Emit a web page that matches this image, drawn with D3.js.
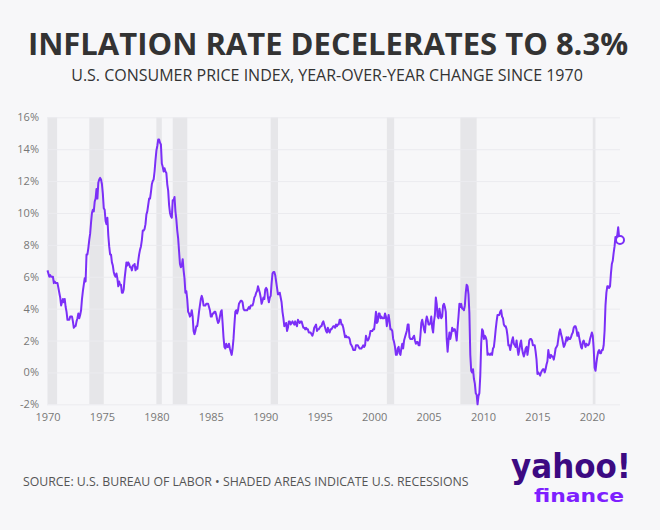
<!DOCTYPE html>
<html>
<head>
<meta charset="utf-8">
<script src="https://cdn.jsdelivr.net/npm/d3@7"></script>
<style>
  html, body { margin: 0; padding: 0; background: #f7f7f9; }
  svg { display: block; }
  .tick text { font-family: "Liberation Sans Narrow", "Open Sans", sans-serif; fill: #777; }
</style>
</head>
<body>
<svg id="chart" width="660" height="530"></svg>
<script>
// monthly CPI-U year-over-year change (%), Jan 1970 .. Aug 2022
var startYear = 1970;
var cpiYoY = [
  6.4, 6.2, 6.0, 6.1, 6.0, 6.0, 6.0, 5.6, 5.7, 5.6, 5.6, 5.6,   // 1970
  5.3, 5.0, 4.7, 4.2, 4.4, 4.6, 4.4, 4.6, 4.1, 3.8, 3.3, 3.3,   // 1971
  3.3, 3.5, 3.5, 3.5, 3.2, 2.8, 2.9, 2.9, 3.2, 3.4, 3.7, 3.4,   // 1972
  3.6, 3.9, 4.6, 5.1, 5.5, 5.9, 5.7, 7.4, 7.4, 7.8, 8.3, 8.7,   // 1973
  9.4, 10.0, 10.2, 10.1, 10.7, 10.9, 11.5, 10.9, 11.9, 12.1, 12.2, 12.1, // 1974
  11.8, 11.2, 10.3, 10.2, 9.5, 9.3, 9.7, 8.6, 7.9, 7.4, 7.4, 6.9, // 1975
  6.7, 6.3, 6.1, 6.0, 6.2, 5.9, 5.4, 5.7, 5.5, 5.5, 5.0, 5.0,   // 1976
  5.2, 5.9, 6.4, 6.9, 6.7, 6.9, 6.8, 6.6, 6.6, 6.4, 6.7, 6.7,   // 1977
  6.8, 6.4, 6.6, 6.5, 7.0, 7.4, 7.7, 7.9, 8.3, 8.9, 8.9, 9.0,   // 1978
  9.3, 9.9, 10.1, 10.5, 10.9, 10.9, 11.3, 11.8, 12.0, 12.1, 12.6, 13.3, // 1979
  13.9, 14.2, 14.6, 14.6, 14.4, 14.3, 13.1, 12.9, 12.6, 12.8, 12.6, 12.5, // 1980
  11.8, 11.4, 10.5, 10.0, 9.8, 9.7, 10.8, 10.8, 11.0, 10.1, 9.6, 8.9, // 1981
  8.4, 7.6, 6.8, 6.6, 6.7, 7.1, 6.4, 5.9, 5.0, 5.1, 4.6, 3.8,   // 1982
  3.7, 3.5, 3.6, 3.9, 3.5, 2.6, 2.4, 2.6, 2.9, 2.9, 3.3, 3.8,   // 1983
  4.2, 4.6, 4.8, 4.6, 4.2, 4.2, 4.2, 4.3, 4.3, 4.3, 4.1, 3.9,   // 1984
  3.5, 3.5, 3.7, 3.7, 3.8, 3.8, 3.6, 3.3, 3.1, 3.2, 3.5, 3.8,   // 1985
  3.9, 3.1, 2.2, 1.6, 1.5, 1.8, 1.6, 1.6, 1.8, 1.5, 1.3, 1.1,   // 1986
  1.5, 2.1, 3.0, 3.8, 3.9, 3.7, 3.9, 4.3, 4.4, 4.5, 4.5, 4.4,   // 1987
  4.0, 3.9, 3.9, 3.9, 3.9, 4.0, 4.1, 4.0, 4.2, 4.2, 4.2, 4.4,   // 1988
  4.7, 4.8, 5.0, 5.1, 5.4, 5.2, 5.0, 4.7, 4.3, 4.5, 4.7, 4.6,   // 1989
  5.2, 5.3, 5.2, 4.7, 4.4, 4.7, 4.8, 5.6, 6.2, 6.3, 6.3, 6.1,   // 1990
  5.7, 5.3, 4.9, 4.9, 5.0, 4.7, 4.4, 3.8, 3.4, 2.9, 3.0, 3.1,   // 1991
  2.6, 2.8, 3.2, 3.2, 3.0, 3.1, 3.2, 3.1, 3.0, 3.2, 3.0, 2.9,   // 1992
  3.3, 3.2, 3.1, 3.2, 3.2, 3.0, 2.8, 2.8, 2.7, 2.8, 2.7, 2.7,   // 1993
  2.5, 2.5, 2.5, 2.4, 2.3, 2.5, 2.8, 2.9, 3.0, 2.6, 2.7, 2.7,   // 1994
  2.8, 2.9, 2.9, 3.1, 3.2, 3.0, 2.8, 2.6, 2.5, 2.8, 2.6, 2.5,   // 1995
  2.7, 2.7, 2.8, 2.9, 2.9, 2.8, 3.0, 2.9, 3.0, 3.0, 3.3, 3.3,   // 1996
  3.0, 3.0, 2.8, 2.5, 2.2, 2.3, 2.2, 2.2, 2.2, 2.1, 1.8, 1.7,   // 1997
  1.6, 1.4, 1.4, 1.4, 1.7, 1.7, 1.7, 1.6, 1.5, 1.5, 1.5, 1.6,   // 1998
  1.7, 1.6, 1.7, 2.3, 2.1, 2.0, 2.1, 2.3, 2.6, 2.6, 2.6, 2.7,   // 1999
  2.7, 3.2, 3.8, 3.1, 3.2, 3.7, 3.7, 3.4, 3.5, 3.4, 3.4, 3.4,   // 2000
  3.7, 3.5, 2.9, 3.3, 3.6, 3.2, 2.7, 2.7, 2.6, 2.1, 1.9, 1.6,   // 2001
  1.1, 1.1, 1.5, 1.6, 1.2, 1.1, 1.5, 1.8, 1.5, 2.0, 2.2, 2.4,   // 2002
  2.6, 3.0, 3.0, 2.2, 2.1, 2.1, 2.1, 2.2, 2.3, 2.0, 1.8, 1.9,   // 2003
  1.9, 1.7, 1.7, 2.3, 3.1, 3.3, 3.0, 2.7, 2.5, 3.2, 3.5, 3.3,   // 2004
  3.0, 3.0, 3.1, 3.5, 2.8, 2.5, 3.2, 3.6, 4.7, 4.3, 3.5, 3.4,   // 2005
  4.0, 3.6, 3.4, 3.5, 4.2, 4.3, 4.1, 3.8, 2.1, 1.3, 2.0, 2.5,   // 2006
  2.1, 2.4, 2.8, 2.6, 2.7, 2.7, 2.4, 2.0, 2.8, 3.5, 4.3, 4.1,   // 2007
  4.3, 4.0, 4.0, 3.9, 4.2, 5.0, 5.5, 5.4, 4.9, 3.7, 1.1, 0.1,   // 2008
  0.0, 0.2, -0.4, -0.7, -1.3, -1.4, -2.0, -1.5, -1.3, -0.2, 1.8, 2.7, // 2009
  2.6, 2.1, 2.3, 2.2, 2.0, 1.1, 1.2, 1.1, 1.1, 1.2, 1.1, 1.5,   // 2010
  1.6, 2.1, 2.7, 3.2, 3.6, 3.6, 3.6, 3.8, 3.9, 3.5, 3.4, 3.0,   // 2011
  2.9, 2.9, 2.7, 2.3, 1.7, 1.7, 1.4, 1.7, 2.0, 2.2, 1.8, 1.7,   // 2012
  1.6, 2.0, 1.5, 1.1, 1.4, 1.8, 2.0, 1.5, 1.2, 1.0, 1.2, 1.5,   // 2013
  1.6, 1.1, 1.5, 2.0, 2.1, 2.1, 2.0, 1.7, 1.7, 1.7, 1.3, 0.8,   // 2014
  -0.1, 0.0, -0.1, -0.2, 0.0, 0.1, 0.2, 0.2, 0.0, 0.2, 0.5, 0.7, // 2015
  1.4, 1.0, 0.9, 1.1, 1.0, 1.0, 0.8, 1.1, 1.5, 1.6, 1.7, 2.1,   // 2016
  2.5, 2.7, 2.4, 2.2, 1.9, 1.6, 1.7, 1.9, 2.2, 2.0, 2.2, 2.1,   // 2017
  2.1, 2.2, 2.4, 2.5, 2.8, 2.9, 2.9, 2.7, 2.3, 2.5, 2.2, 1.9,   // 2018
  1.6, 1.5, 1.9, 2.0, 1.8, 1.6, 1.8, 1.7, 1.7, 1.8, 2.1, 2.3,   // 2019
  2.5, 2.3, 1.5, 0.3, 0.1, 0.6, 1.0, 1.3, 1.4, 1.2, 1.2, 1.4,   // 2020
  1.4, 1.7, 2.6, 4.2, 5.0, 5.4, 5.4, 5.3, 5.4, 6.2, 6.8, 7.0,   // 2021
  7.5, 7.9, 8.5, 8.3, 8.6, 9.1, 8.5, 8.3                         // 2022
];

// NBER recessions (decimal years)
var recStart = [1969.92, 1973.84, 1980.0, 1981.5, 1990.5, 2001.17, 2007.92, 2020.08];
var recEnd   = [1970.88, 1975.17, 1980.5, 1982.84, 1991.17, 2001.84, 2009.42, 2020.33];

var yearTicks = [1970, 1975, 1980, 1985, 1990, 1995, 2000, 2005, 2010, 2015, 2020];
var pctTicks = [-2, 0, 2, 4, 6, 8, 10, 12, 14, 16];

var svg = d3.select("#chart");
var purple = "#7b2ff7";

var data = cpiYoY.map((v, i) => ({ t: startYear + i / 12, v: v }));
var last = data[data.length - 1];

var x = d3.scaleLinear().domain([1970, last.t]).range([47.5, 620]);
var y = d3.scaleLinear().domain([-2, 16]).range([404.3, 117.3]);

// background
svg.append("rect").attr("width", 660).attr("height", 530).attr("fill", "#f7f7f9");

// titles
svg.append("text")
  .attr("x", 328).attr("y", 55)
  .attr("text-anchor", "middle")
  .style("font-family", "'Open Sans', sans-serif")
  .style("font-weight", 700)
  .style("font-size", "31px")
  .attr("fill", "#333")
  .text("INFLATION RATE DECELERATES TO 8.3%");

svg.append("text")
  .attr("x", 327).attr("y", 81)
  .attr("text-anchor", "middle")
  .style("font-family", "'Open Sans', sans-serif")
  .style("font-size", "16px")
  .attr("fill", "#333")
  .text("U.S. CONSUMER PRICE INDEX, YEAR-OVER-YEAR CHANGE SINCE 1970");

// recession shading
var clipX = d => Math.max(x.range()[0], x(d));
svg.append("g").selectAll("rect")
  .data(recStart)
  .join("rect")
  .attr("x", (d) => clipX(d))
  .attr("width", (d, i) => x(recEnd[i]) - clipX(d))
  .attr("y", y(16))
  .attr("height", y(-2) - y(16))
  .attr("fill", "#e6e6e9");

// y grid + labels
var yAxis = svg.append("g")
  .attr("transform", "translate(47,0)")
  .call(d3.axisLeft(y).tickValues(pctTicks).tickSize(-573).tickPadding(8).tickFormat(d => d + "%"));
yAxis.select(".domain").remove();
yAxis.selectAll(".tick line").attr("stroke", "#ebebef");
yAxis.selectAll(".tick text").style("font-size", "11px").attr("x", -8);

// x labels
var xAxis = svg.append("g")
  .attr("transform", "translate(0," + y(-2) + ")")
  .call(d3.axisBottom(x).tickValues(yearTicks).tickSize(0).tickPadding(9).tickFormat(d3.format("d")));
xAxis.select(".domain").remove();
xAxis.selectAll(".tick text").style("font-size", "11px");

// line
var line = d3.line().x(d => x(d.t)).y(d => y(d.v));
svg.append("path")
  .datum(data)
  .attr("d", line)
  .attr("fill", "none")
  .attr("stroke", purple)
  .attr("stroke-width", 2)
  .attr("stroke-linejoin", "round");

// end point marker
svg.append("circle")
  .attr("cx", x(last.t)).attr("cy", y(last.v))
  .attr("r", 4)
  .attr("fill", "#fff")
  .attr("stroke", purple)
  .attr("stroke-width", 2);

// footer
svg.append("text")
  .attr("x", 23).attr("y", 486)
  .style("font-family", "'Open Sans', sans-serif")
  .style("font-size", "12.3px")
  .attr("fill", "#555")
  .text("SOURCE: U.S. BUREAU OF LABOR \u2022 SHADED AREAS INDICATE U.S. RECESSIONS");

// logo
svg.append("text")
  .attr("x", 511).attr("y", 478)
  .style("font-family", "'DejaVu Sans', sans-serif")
  .style("font-weight", 700)
  .style("font-size", "33px")
  .attr("textLength", 120)
  .attr("lengthAdjust", "spacingAndGlyphs")
  .attr("fill", "#3c0a82")
  .text("yahoo!");

svg.append("text")
  .attr("x", 534).attr("y", 502)
  .style("font-family", "'DejaVu Sans', sans-serif")
  .style("font-weight", 700)
  .style("font-size", "17.5px")
  .attr("textLength", 90)
  .attr("lengthAdjust", "spacingAndGlyphs")
  .attr("fill", "#7e1fff")
  .text("finance");
</script>
</body>
</html>
